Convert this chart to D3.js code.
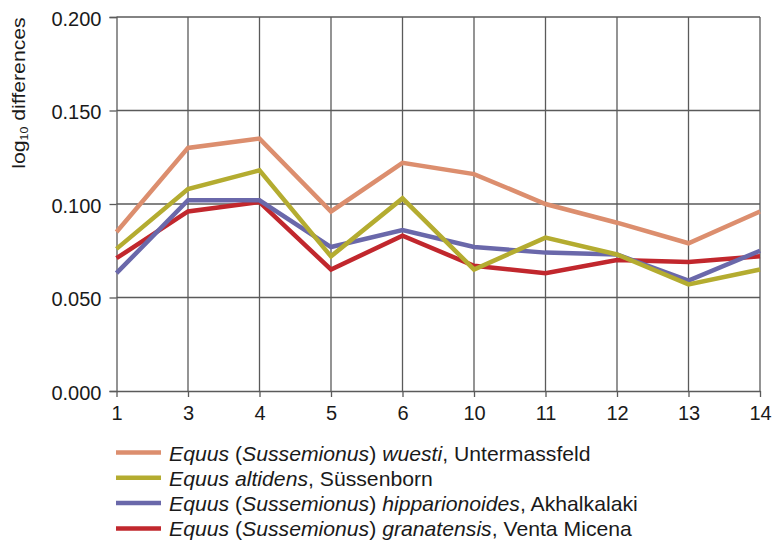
<!DOCTYPE html>
<html><head><meta charset="utf-8">
<script src="https://cdn.jsdelivr.net/npm/d3@7"></script>
<style>
html,body{margin:0;padding:0;background:#fff;}
svg{display:block;font-family:"Liberation Sans",Arial,sans-serif;}
</style></head>
<body>
<svg id="chart" width="774" height="542"></svg>
<script>
const categories = ["1","3","4","5","6","10","11","12","13","14"];
const yTicks = [0, 0.05, 0.1, 0.15, 0.2];
const wuesti      = [0.085, 0.130, 0.135, 0.096, 0.122, 0.116, 0.100, 0.090, 0.079, 0.096];
const altidens    = [0.076, 0.108, 0.118, 0.072, 0.103, 0.065, 0.082, 0.073, 0.057, 0.065];
const hipparionoides = [0.063, 0.102, 0.102, 0.077, 0.086, 0.077, 0.074, 0.073, 0.059, 0.075];
const granatensis = [0.071, 0.096, 0.101, 0.065, 0.083, 0.067, 0.063, 0.070, 0.069, 0.072];

const series = [
  {genus:"Equus", sub:"Sussemionus", sp:"wuesti", loc:"Untermassfeld", values:wuesti, color:"#dc8e6e"},
  {genus:"Equus", sub:null, sp:"altidens", loc:"Süssenborn", values:altidens, color:"#b4ac30"},
  {genus:"Equus", sub:"Sussemionus", sp:"hipparionoides", loc:"Akhalkalaki", values:hipparionoides, color:"#6a68aa"},
  {genus:"Equus", sub:"Sussemionus", sp:"granatensis", loc:"Venta Micena", values:granatensis, color:"#c1272d"}
];

(function(){
const svg = d3.select("#chart");
const mLeft = 116.5, mRight = 760, mTop = 17, mBottom = 391;
const x = d3.scalePoint().domain(categories).range([mLeft, mRight]);
const y = d3.scaleLinear().domain([0, 0.2]).range([mBottom, mTop]);
const gridColor = "#5a5a5a";
const textColor = "#1a1a1a";

svg.append("g").selectAll("line").data(yTicks.slice(1)).join("line")
  .attr("x1", mLeft).attr("x2", mRight)
  .attr("y1", d => y(d)).attr("y2", d => y(d))
  .attr("stroke", gridColor).attr("stroke-width", 1.3);
svg.append("g").selectAll("line").data(categories.slice(1)).join("line")
  .attr("x1", d => x(d)).attr("x2", d => x(d))
  .attr("y1", mTop).attr("y2", mBottom)
  .attr("stroke", gridColor).attr("stroke-width", 1.3);

const ya = svg.append("g").attr("transform", `translate(${mLeft},0)`)
  .call(d3.axisLeft(y).tickValues(yTicks).tickFormat(d3.format(".3f")).tickSize(7).tickPadding(8));
ya.select(".domain").attr("stroke", gridColor).attr("stroke-width", 1.3);
ya.selectAll(".tick line").attr("stroke", gridColor).attr("stroke-width", 1.3);
ya.selectAll(".tick text").attr("font-size", 20).attr("fill", textColor).attr("dy", "0.4em")
  .attr("font-family", "Liberation Sans, Arial, sans-serif");

const xa = svg.append("g").attr("transform", `translate(0,${mBottom})`)
  .call(d3.axisBottom(x).tickSize(6).tickPadding(9).tickSizeOuter(0));
xa.select(".domain").attr("stroke", gridColor).attr("stroke-width", 1.3);
xa.selectAll(".tick line").attr("stroke", gridColor).attr("stroke-width", 1.3);
xa.selectAll(".tick text").attr("font-size", 20).attr("fill", textColor)
  .attr("font-family", "Liberation Sans, Arial, sans-serif");

const yl = svg.append("text")
  .attr("transform", `translate(25,93) rotate(-90) scale(1.18,1)`)
  .attr("text-anchor", "middle").attr("font-size", 18).attr("fill", textColor);
yl.append("tspan").text("log");
yl.append("tspan").attr("font-size", 10.5).attr("dy", 3).text("10");
yl.append("tspan").attr("dy", -3).text(" differences");

const line = d3.line().x((d, i) => x(categories[i])).y(d => y(d));
svg.append("g").selectAll("path").data(series.slice().reverse()).join("path")
  .attr("d", d => line(d.values))
  .attr("fill", "none").attr("stroke", d => d.color)
  .attr("stroke-width", 4.5).attr("stroke-linejoin", "miter");

const lg = svg.append("g");
series.forEach((s, i) => {
  const yy = 452.5 + i * 25.3;
  lg.append("line").attr("x1", 116).attr("x2", 161).attr("y1", yy).attr("y2", yy)
    .attr("stroke", s.color).attr("stroke-width", 4.5);
  const t = lg.append("text")
    .attr("transform", `translate(169,${yy + 8}) scale(1.06,1)`)
    .attr("font-size", 20).attr("fill", textColor);
  t.append("tspan").attr("font-style", "italic").text(s.genus);
  if (s.sub) {
    t.append("tspan").text(" (");
    t.append("tspan").attr("font-style", "italic").text(s.sub);
    t.append("tspan").text(") ");
  } else {
    t.append("tspan").text(" ");
  }
  t.append("tspan").attr("font-style", "italic").text(s.sp);
  t.append("tspan").text(", " + s.loc);
});
})();
</script>
</body></html>
